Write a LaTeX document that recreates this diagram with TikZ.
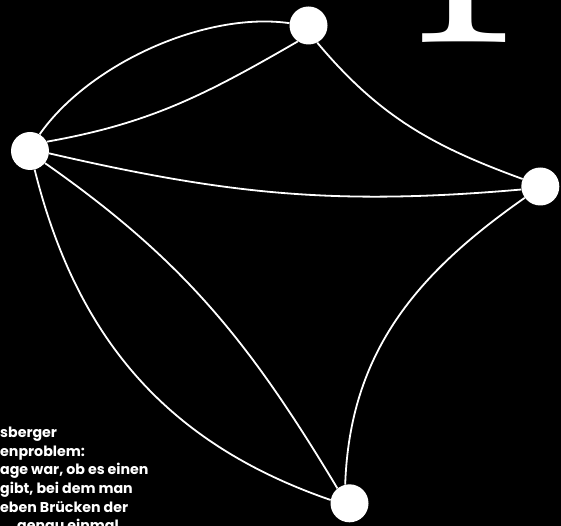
\documentclass[tikz,border=0pt]{standalone}
\usepackage{fontspec}
\newfontfamily\notefont{Poppins}

\begin{document}
\begin{tikzpicture}[x=1pt, y=1pt,
      bank/.style={circle, fill=white, minimum size=38pt, inner sep=0pt},
      bridge/.style={white, line width=1.8pt}]
      % Background
      \clip (0,0) rectangle (561,-526);
      \fill[black] (0,0) rectangle (561,-526);
      % Big letter, cut by the top edge
      \node[white, anchor=base west, inner sep=0pt,
         font=\fontsize{337}{337}\selectfont] (letter) at (405.5,-43) {F};
      % Land masses
      \node[bank] (island) at (30,-151) {};
      \node[bank] (north) at (308.5,-25.5) {};
      \node[bank] (east) at (540.3,-186.5) {};
      \node[bank] (south) at (349.5,-503.3) {};
      % Bridges island -- north
      \draw[bridge] (island.60) to[out=55, in=172, looseness=0.8] (north.173);
      \draw[bridge] (island.29) to[out=10, in=210] (north.236);
      % Bridge north -- east
      \draw[bridge] (north.297) to[out=-50, in=160] (east.157);
      % Bridge island -- east
      \draw[bridge] (island.-7) to[out=-13, in=185] (east.189);
      % Bridges island -- south
      \draw[bridge] (island.-39) to[out=-35, in=121] (south.129);
      \draw[bridge] (island.-76) to[out=-76, in=161] (south.170);
      % Bridge east -- south
      \draw[bridge] (east.216) to[out=215, in=88] (south.103);
      % Caption, cut by the left and bottom edges
      \node[white, anchor=north west, align=left, inner sep=0pt,
         font=\notefont\bfseries\fontsize{14.2}{18.6}\selectfont] (caption) at (0,-427)
         {sberger\\enproblem:\\age war, ob es einen\\gibt, bei dem man\\eben Br\"ucken der\\\hspace*{17pt}genau einmal};
   \end{tikzpicture}
\end{document}
